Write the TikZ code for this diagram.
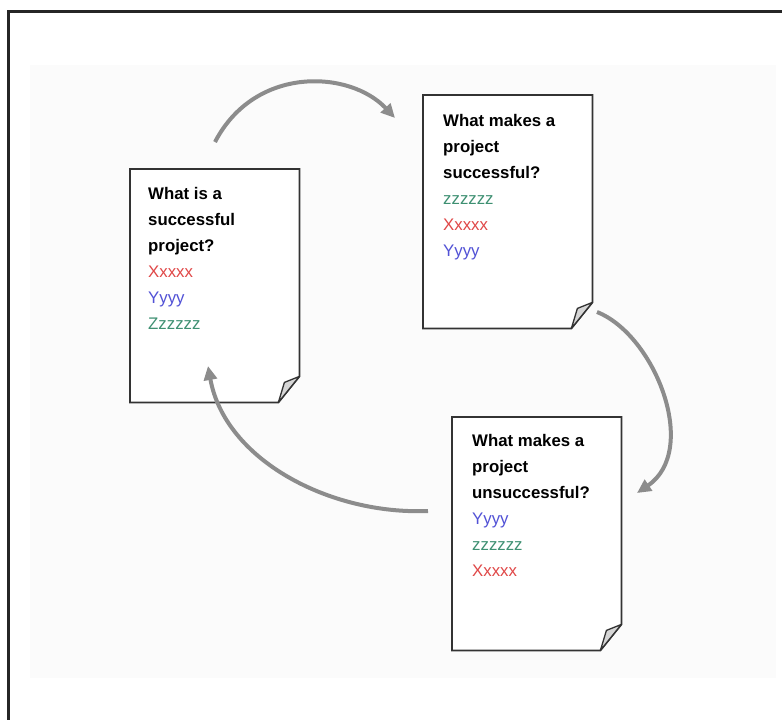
\documentclass[tikz,border=0pt]{standalone}
\usepackage{fontspec}
\setmainfont{Liberation Sans}
\usetikzlibrary{calc,arrows.meta}

\definecolor{outline}{HTML}{333333}
\definecolor{foldgray}{HTML}{D6D6D6}
\definecolor{arrowgray}{HTML}{8C8C8C}
\definecolor{bggray}{HTML}{FBFBFB}
\definecolor{xred}{HTML}{E04848}
\definecolor{yblue}{HTML}{5252D6}
\definecolor{zgreen}{HTML}{3E9072}

\tikzset{
  pagebox/.style={minimum width=169pt, minimum height=233pt, inner sep=0pt, anchor=north west},
  pagetext/.style={anchor=north west, align=left, inner sep=0pt, font=\fontsize{16.8}{26}\selectfont},
  cyclearrow/.style={draw=arrowgray, line width=4pt, -{Triangle[length=14pt,width=13pt]}},
}

% page outline with a dog-ear at the lower right
\newcommand{\dogearpage}[1]{%
  \draw[outline, line width=1.8pt, fill=white] (#1.north west) -- (#1.north east)
    -- ($(#1.south east)+(0,-26)$) -- ($(#1.south east)+(-21,0)$) -- (#1.south west) -- cycle;
  \draw[outline, line width=1.3pt, fill=foldgray, line join=round] ($(#1.south east)+(-21,0)$)
    -- ($(#1.south east)+(-15,-20)$) -- ($(#1.south east)+(0,-26)$) -- cycle;
}

\begin{document}
\begin{tikzpicture}[x=1pt, y=-1pt]
  \useasboundingbox (0,0) rectangle (782,720);
  \fill[bggray] (30,65) rectangle (776,678);
  \draw[line width=3pt, black!85] (8,720) -- (8,11) -- (782,11);

  % the three pages
  \node[pagebox] (q1) at (130,169) {};
  \node[pagebox] (q2) at (423,95) {};
  \node[pagebox] (q3) at (452,417) {};
  \dogearpage{q1}
  \dogearpage{q2}
  \dogearpage{q3}

  \node[pagetext] (t1) at ($(q1.north west)+(18,18)$)
    {\textbf{What is a}\\ \textbf{successful}\\ \textbf{project?}\\
     \textcolor{xred}{Xxxxx}\\ \textcolor{yblue}{Yyyy}\\ \textcolor{zgreen}{Zzzzzz}};
  \node[pagetext] (t2) at ($(q2.north west)+(20,19)$)
    {\textbf{What makes a}\\ \textbf{project}\\ \textbf{successful?}\\
     \textcolor{zgreen}{zzzzzz}\\ \textcolor{xred}{Xxxxx}\\ \textcolor{yblue}{Yyyy}};
  \node[pagetext] (t3) at ($(q3.north west)+(20,17)$)
    {\textbf{What makes a}\\ \textbf{project}\\ \textbf{unsuccessful?}\\
     \textcolor{yblue}{Yyyy}\\ \textcolor{zgreen}{zzzzzz}\\ \textcolor{xred}{Xxxxx}};

  % arrows round the cycle
  \coordinate (c1) at (215,142);
  \coordinate (c2) at (395,118);
  \coordinate (c3) at (597,312);
  \coordinate (c4) at (637,493);
  \coordinate (c5) at (428,511);
  \coordinate (c6) at (208,366);
  \draw[cyclearrow] (c1) .. controls (255,65) and (350,70) .. (c2);
  \draw[cyclearrow] (c3) .. controls (655,335) and (700,450) .. (c4);
  \draw[cyclearrow] (c5) .. controls (330,515) and (225,460) .. (c6);
\end{tikzpicture}
\end{document}
